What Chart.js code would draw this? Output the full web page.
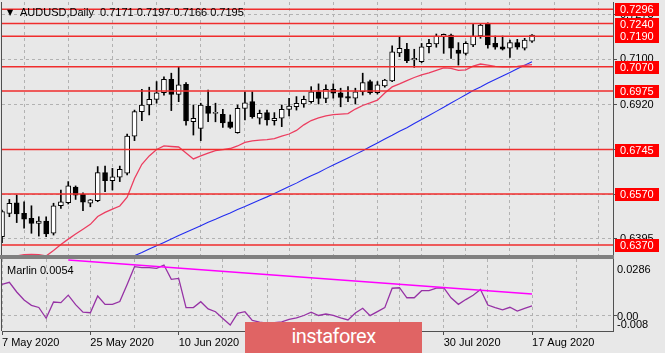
<!DOCTYPE html>
<html><head><meta charset="utf-8">
<script src="https://cdn.jsdelivr.net/npm/chart.js@4/dist/chart.umd.min.js"></script>
<style>
html,body{margin:0;padding:0;background:#e8e8e8;}
#wrap{position:relative;width:665px;height:353px;overflow:hidden;background:#e8e8e8;font-family:'Liberation Sans',Arial,sans-serif;}
canvas{position:absolute;left:0;}
#c1{top:0;}
#c2{top:256px;}
#sep{position:absolute;left:0;top:255px;width:614px;height:4px;background:#808080;}
#tri{position:absolute;left:7px;top:8px;font:8px 'DejaVu Sans';color:#000;}
#title{position:absolute;left:20px;top:6px;font-size:11px;line-height:13px;color:#000;white-space:pre;}
#mlabel{position:absolute;left:7px;top:264px;font-size:11px;line-height:13px;color:#000;white-space:pre;}
#logo{position:absolute;left:245px;top:322px;width:177px;height:40px;background:#e06464;color:#fff;font:20px Roboto,sans-serif;letter-spacing:-0.5px;text-align:center;line-height:29px;}
</style></head><body>
<div id="wrap">
<canvas id="c1" width="665" height="256"></canvas>
<div id="sep"></div>
<canvas id="c2" width="665" height="97"></canvas>
<div id="tri">▼</div>
<div id="title">AUDUSD,Daily  0.7171 0.7197 0.7166 0.7195</div>
<div id="mlabel">Marlin 0.0054</div>
<div id="logo">instaforex</div>
</div>
<script>
// ---- data (daily AUDUSD bars from 7 May 2020 to 17 Aug 2020) ----
const open = [0.6403,0.6494,0.6536,0.6494,0.6475,0.6455,0.6464,0.6416,0.6524,0.6536,
0.6597,0.6569,0.6534,0.6544,0.6654,0.6623,0.6636,0.6652,0.6798,0.6894,
0.6920,0.6942,0.6968,0.7021,0.6962,0.7001,0.6854,0.6828,0.6916,0.6887,
0.6883,0.6854,0.6811,0.6907,0.6933,0.6868,0.6890,0.6858,0.6868,0.6903,
0.6913,0.6924,0.6933,0.6972,0.6946,0.6982,0.6968,0.6953,0.6947,0.6972,
0.7012,0.6968,0.6995,0.7015,0.7125,0.7139,0.7097,0.7090,0.7149,0.7160,
0.7188,0.7195,0.7136,0.7123,0.7156,0.7191,0.7238,0.7162,0.7149,0.7143,
0.7165,0.7143,0.7171];
const high = [0.6507,0.6549,0.6566,0.6540,0.6524,0.6481,0.6481,0.6534,0.6586,0.6619,
0.6602,0.6575,0.6549,0.6678,0.6680,0.6671,0.6680,0.6806,0.6900,0.6982,
0.6990,0.7012,0.7031,0.7045,0.7070,0.7008,0.6920,0.6927,0.6979,0.6927,
0.6903,0.6881,0.6920,0.6972,0.6972,0.6900,0.6900,0.6890,0.6920,0.6946,
0.6953,0.6955,0.6992,0.7003,0.6999,0.7003,0.6986,0.6992,0.6986,0.7045,
0.7018,0.7012,0.7021,0.7152,0.7186,0.7162,0.7139,0.7162,0.7178,0.7199,
0.7199,0.7199,0.7165,0.7169,0.7241,0.7241,0.7243,0.7191,0.7191,0.7175,
0.7178,0.7182,0.7197];
const low = [0.6379,0.6481,0.6458,0.6436,0.6416,0.6405,0.6403,0.6409,0.6514,0.6531,
0.6549,0.6505,0.6520,0.6540,0.6579,0.6586,0.6619,0.6645,0.6780,0.6858,
0.6881,0.6927,0.6959,0.6898,0.6933,0.6841,0.6802,0.6780,0.6854,0.6854,
0.6832,0.6828,0.6809,0.6861,0.6868,0.6845,0.6841,0.6841,0.6835,0.6877,
0.6900,0.6911,0.6927,0.6924,0.6929,0.6947,0.6913,0.6933,0.6924,0.6959,
0.6963,0.6963,0.6990,0.7012,0.7110,0.7086,0.7068,0.7086,0.7125,0.7147,
0.7123,0.7103,0.7077,0.7116,0.7149,0.7182,0.7143,0.7139,0.7136,0.7107,
0.7139,0.7136,0.7166];
const close = [0.6501,0.6534,0.6492,0.6471,0.6455,0.6464,0.6413,0.6524,0.6540,0.6602,
0.6566,0.6538,0.6547,0.6654,0.6623,0.6638,0.6667,0.6798,0.6894,0.6920,
0.6942,0.6968,0.7021,0.6962,0.6999,0.6857,0.6868,0.6920,0.6887,0.6888,
0.6850,0.6832,0.6907,0.6929,0.6874,0.6887,0.6861,0.6868,0.6903,0.6916,
0.6927,0.6942,0.6972,0.6946,0.6982,0.6966,0.6950,0.6947,0.6972,0.7008,
0.6968,0.6999,0.7018,0.7129,0.7143,0.7094,0.7103,0.7149,0.7162,0.7191,
0.7198,0.7143,0.7123,0.7162,0.7191,0.7234,0.7156,0.7147,0.7139,0.7165,
0.7147,0.7175,0.7195];
const maRed = [null,null,0.6327,0.6332,0.6333,0.6332,0.6327,0.6348,0.6372,0.6393,
0.6413,0.6432,0.6451,0.6482,0.6498,0.6511,0.6523,0.6558,0.6631,0.6687,
0.6720,0.6745,0.6759,0.6757,0.6755,0.6731,0.6708,0.6720,0.6731,0.6741,
0.6745,0.6749,0.6759,0.6773,0.6779,0.6782,0.6784,0.6788,0.6798,0.6806,
0.6820,0.6842,0.6859,0.6869,0.6877,0.6882,0.6884,0.6886,0.6904,0.6918,
0.6928,0.6939,0.6967,0.6991,0.7003,0.7016,0.7028,0.7038,0.7046,0.7056,
0.7066,0.7064,0.7056,0.7058,0.7073,0.7081,0.7077,0.7072,0.7070,0.7070,
0.7072,0.7076,0.7079];
const maBlue = [null,null,null,null,null,null,null,null,null,null,
null,null,null,null,null,null,null,null,0.6328,0.6340,
0.6354,0.6367,0.6380,0.6393,0.6407,0.6420,0.6433,0.6446,0.6459,0.6471,
0.6484,0.6496,0.6509,0.6521,0.6534,0.6547,0.6559,0.6572,0.6586,0.6600,
0.6613,0.6628,0.6642,0.6655,0.6670,0.6684,0.6698,0.6712,0.6726,0.6740,
0.6756,0.6771,0.6786,0.6801,0.6817,0.6831,0.6847,0.6863,0.6879,0.6895,
0.6911,0.6928,0.6944,0.6960,0.6977,0.6991,0.7006,0.7020,0.7034,0.7048,
0.7062,0.7076,0.7090];
const marlin = [0.0193,0.0205,0.0146,0.0097,0.0065,0.0052,-0.0014,0.0085,0.0081,0.0127,
0.0069,0.0023,0.0020,0.0122,0.0071,0.0071,0.0088,0.0191,0.0300,0.0294,
0.0294,0.0290,0.0310,0.0223,0.0229,0.0051,0.0051,0.0087,0.0043,0.0026,
-0.0015,-0.0055,0.0016,0.0026,-0.0027,-0.0037,-0.0043,-0.0040,-0.0036,-0.0021,
-0.0012,0.0003,0.0023,0.0003,0.0012,0.0004,-0.0012,-0.0024,0.0018,0.0047,
0.0002,0.0027,0.0051,0.0169,0.0172,0.0111,0.0111,0.0154,0.0154,0.0170,
0.0172,0.0111,0.0071,0.0100,0.0126,0.0161,0.0067,0.0051,0.0037,0.0053,
0.0030,0.0047,0.0062];
const marlinTrendStart = {index: 9, value: 0.0341};
const marlinTrendEnd = {index: 72, value: 0.0134};
const levels = [0.7296,0.7240,0.7190,0.7070,0.6975,0.6745,0.6570,0.6370];
const priceGrid = [0.7275,0.7100,0.6920,0.6745,0.6570,0.6395];
const marlinTicks = [0.0286,0,-0.008];
const marlinTickLabels = ['0.0286','0.00','-0.008'];
const totalSlots = 84; // bars shown plus empty space to the right
const months = ['Jan','Feb','Mar','Apr','May','Jun','Jul','Aug','Sep','Oct','Nov','Dec'];

// trading-day category labels
const labels = [];
{ const d = new Date(Date.UTC(2020,4,7));
  while (labels.length < totalSlots) {
    const wd = d.getUTCDay();
    if (wd !== 0 && wd !== 6) labels.push(d.getUTCDate()+' '+months[d.getUTCMonth()]+' '+d.getUTCFullYear());
    d.setUTCDate(d.getUTCDate()+1);
  }
}

Chart.defaults.font.family = "'Liberation Sans', Arial, sans-serif";
Chart.defaults.font.size = 11;
Chart.defaults.color = '#000';

const GRID = '#b2b2b2';
const AXIS = '#505050';
const FONT = "11px 'Liberation Sans', Arial, sans-serif";

const noPadY = s => { s.width = 52; s.paddingTop = 0; s.paddingBottom = 0; };

const framePlugin = {
  id: 'frame',
  afterDraw(chart) {
    const {ctx, chartArea: a} = chart;
    ctx.save();
    ctx.fillStyle = AXIS;
    ctx.fillRect(1, a.top, 1, a.bottom - a.top);
    ctx.restore();
  }
};

const levelLabels = {
  id: 'levelLabels',
  afterDraw(chart) {
    const {ctx} = chart;
    const y = chart.scales.y;
    ctx.save();
    ctx.font = FONT;
    ctx.textBaseline = 'middle';
    ctx.textAlign = 'left';
    levels.forEach(v => {
      const py = Math.round(y.getPixelForValue(v));
      ctx.fillStyle = '#ff0000';
      ctx.fillRect(615, py - 6, 44, 13);
      ctx.fillStyle = '#ffffff';
      ctx.fillText(v.toFixed(4), 620, py + 1);
    });
    ctx.restore();
  }
};

const marlinLabels = {
  id: 'marlinLabels',
  afterDraw(chart) {
    const {ctx} = chart;
    const y = chart.scales.y;
    ctx.save();
    ctx.font = FONT;
    ctx.textBaseline = 'middle';
    ctx.textAlign = 'left';
    ctx.fillStyle = '#000';
    marlinTicks.forEach((v, i) => {
      let py = y.getPixelForValue(v);
      if (v < 0) py -= 4.5;
      ctx.fillText(marlinTickLabels[i], 617, py + 0.5);
    });
    ctx.restore();
  }
};

const xGridOnly = {
  type: 'category', offset: false,
  grid: {color: GRID, lineWidth: 1, drawTicks: false},
  border: {display: false, dash: [3, 3]},
  ticks: {display: false},
  afterBuildTicks: s => { s.ticks = s.ticks.filter(t => t.value % 6 === 0); },
  afterFit: s => { s.height = 0; s.paddingLeft = 0; s.paddingRight = 0; }
};

const levelSets = levels.map(v => ({
  type: 'line', data: labels.map(() => v), borderColor: 'rgb(240,45,45)', borderWidth: 1.6,
  pointRadius: 0, order: 0
}));

new Chart(document.getElementById('c1'), {
  type: 'bar',
  data: {
    labels,
    datasets: [
      ...levelSets,
      {type: 'line', data: maRed, borderColor: 'rgb(236,62,96)', borderWidth: 1.3, pointRadius: 0, order: 1},
      {type: 'line', data: maBlue, borderColor: 'rgb(35,45,240)', borderWidth: 1.1, pointRadius: 0, order: 1},
      {type: 'bar', data: open.map((o, i) => [o, close[i]]),
        backgroundColor: ctx => close[ctx.dataIndex] >= open[ctx.dataIndex] ? '#ffffff' : '#000000',
        borderColor: '#000', borderWidth: 1, borderSkipped: false, barThickness: 5, minBarLength: 1,
        grouped: false, order: 2},
      {type: 'bar', data: low.map((l, i) => [l, high[i]]), backgroundColor: '#000', borderWidth: 0,
        barThickness: 1, grouped: false, order: 3}
    ]
  },
  options: {
    responsive: false, animation: false, events: [],
    layout: {padding: {left: 2, top: 2, bottom: 1, right: 0}},
    plugins: {legend: {display: false}, tooltip: {enabled: false}},
    scales: {
      x: xGridOnly,
      y: {
        position: 'right', min: 0.63306, max: 0.73247,
        afterBuildTicks: s => { s.ticks = priceGrid.map(v => ({value: v})); },
        afterFit: noPadY,
        grid: {color: GRID, tickLength: 4, tickColor: AXIS},
        border: {display: true, color: AXIS, width: 1, dash: [3, 3]},
        ticks: {padding: 3, color: '#000', font: {size: 11}, callback: v => Number(v).toFixed(4)}
      }
    }
  },
  plugins: [framePlugin, levelLabels]
});

new Chart(document.getElementById('c2'), {
  type: 'line',
  data: {
    labels,
    datasets: [
      {data: labels.map((_, i) => i === marlinTrendStart.index ? marlinTrendStart.value : (i === marlinTrendEnd.index ? marlinTrendEnd.value : null)),
        spanGaps: true, borderColor: '#ff00ff', borderWidth: 1.5, pointRadius: 0, order: 0},
      {data: marlin, borderColor: 'rgb(150,50,165)', borderWidth: 1.3, pointRadius: 0, order: 1}
    ]
  },
  options: {
    responsive: false, animation: false, events: [],
    layout: {padding: {left: 2, top: 3, bottom: 0, right: 0}},
    plugins: {legend: {display: false}, tooltip: {enabled: false}},
    scales: {
      x: {
        type: 'category', offset: false,
        grid: {color: GRID, lineWidth: 1, drawTicks: true, tickLength: 4,
               tickColor: ctx => (ctx.tick && ctx.tick.value % 12 === 0) ? AXIS : 'rgba(0,0,0,0)'},
        border: {display: true, color: AXIS, width: 1, dash: [3, 3]},
        ticks: {autoSkip: false, maxRotation: 0, minRotation: 0, align: 'start', padding: 1, color: '#000',
          font: {size: 11},
          callback: function (v) { return v % 12 === 0 ? this.getLabelForValue(v) : ''; }},
        afterBuildTicks: s => { s.ticks = s.ticks.filter(t => t.value % 6 === 0); },
        afterFit: s => { s.height = 22; s.paddingLeft = 0; s.paddingRight = 0; }
      },
      y: {
        position: 'right', min: -0.00913, max: 0.03469,
        afterBuildTicks: s => { s.ticks = [{value: 0}]; },
        afterFit: noPadY,
        grid: {color: GRID, tickLength: 4, tickColor: AXIS},
        border: {display: true, color: AXIS, width: 1, dash: [3, 3]},
        ticks: {display: false}
      }
    }
  },
  plugins: [framePlugin, marlinLabels]
});
</script>
</body></html>
